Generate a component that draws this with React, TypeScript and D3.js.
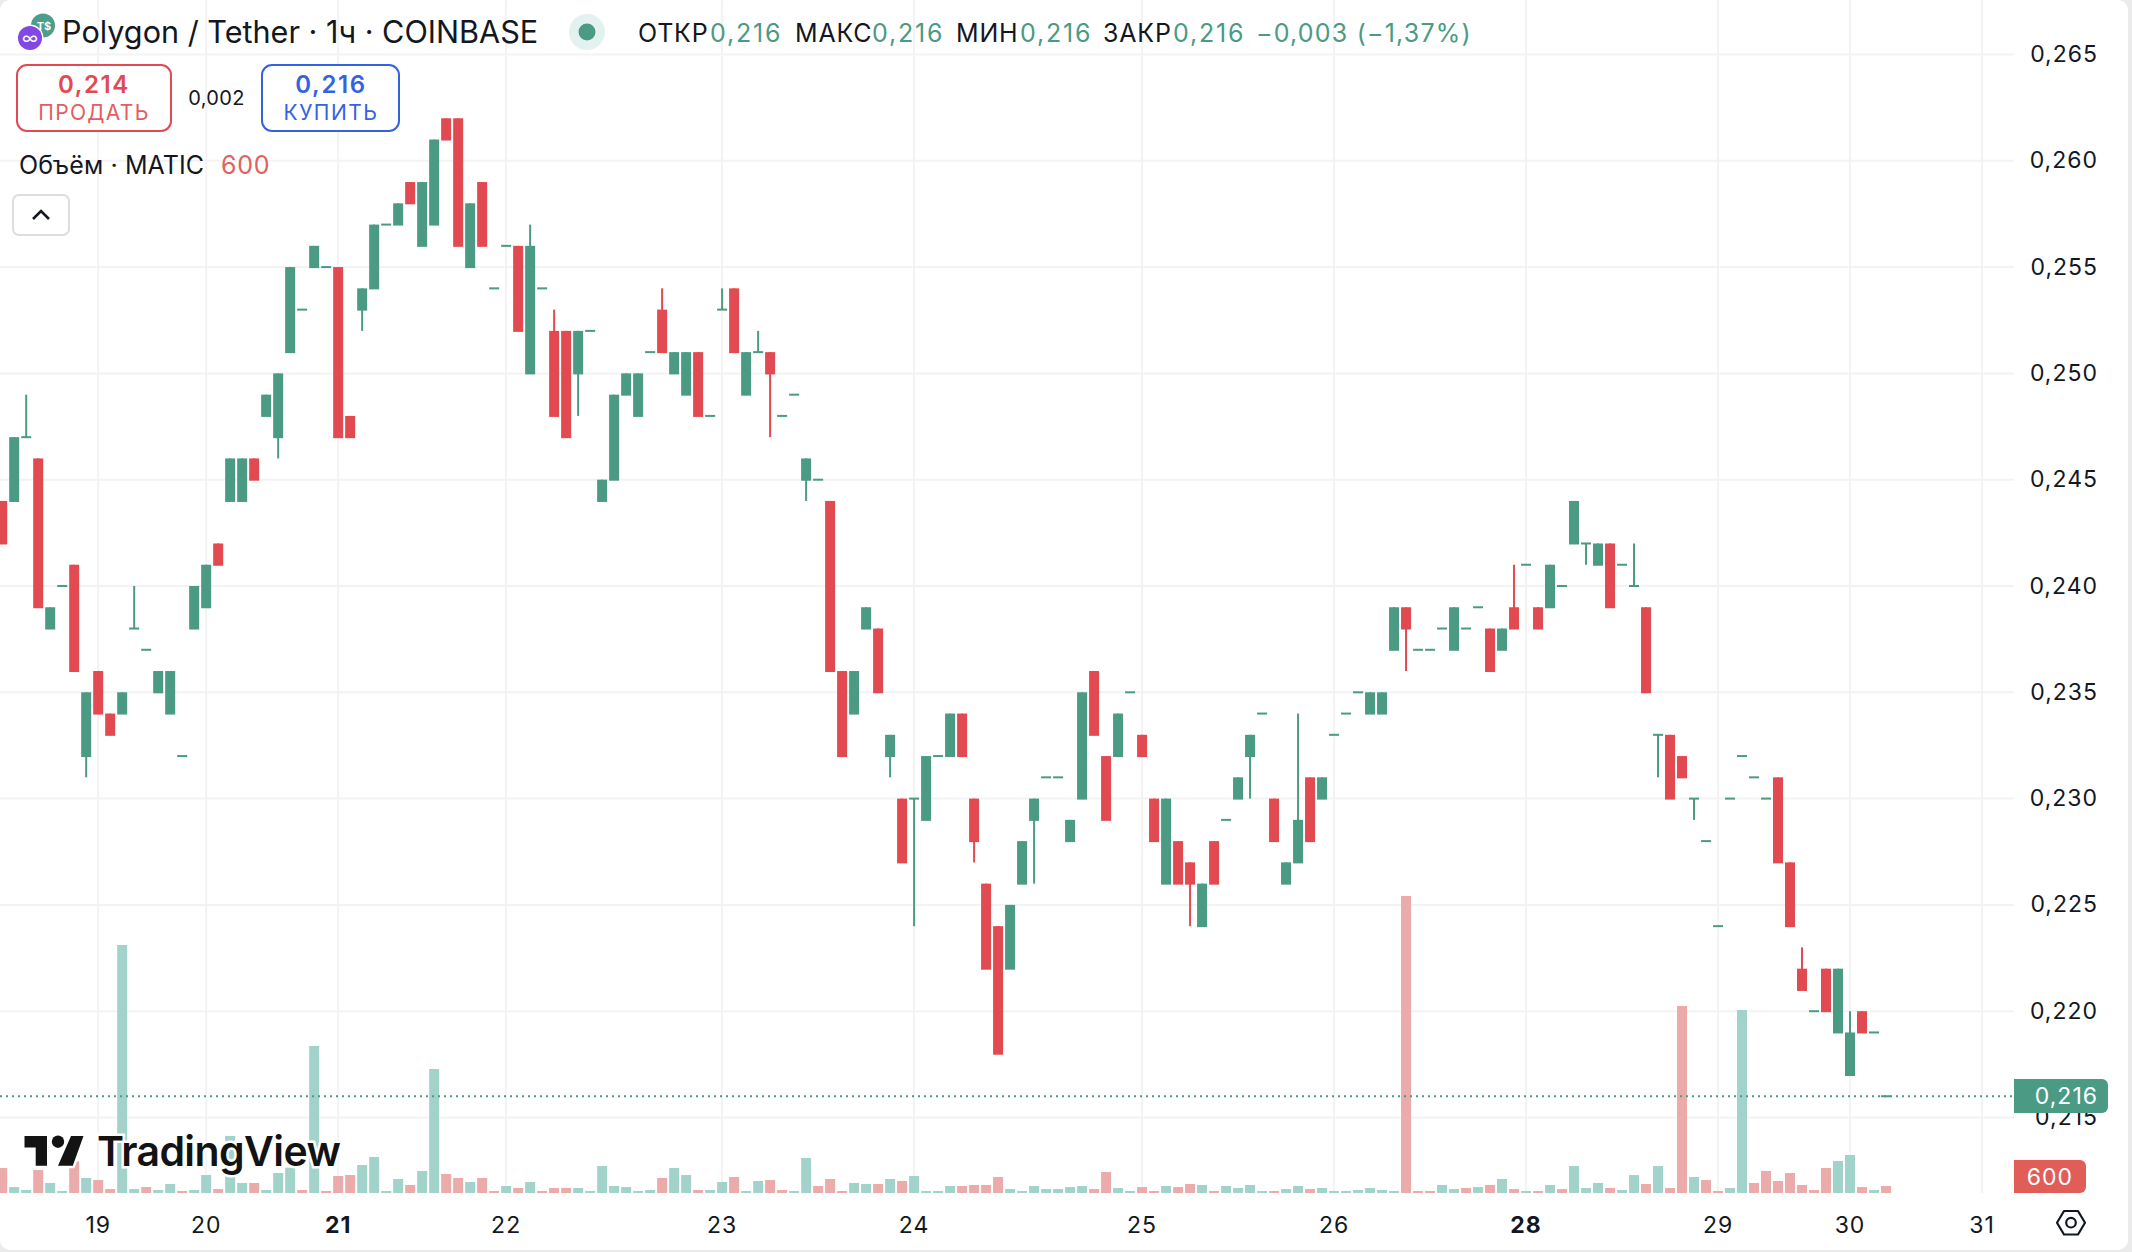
import React from "react";
import * as d3 from "d3";

// prices are in thousandths of a dollar, one candle per slot on the x axis
const opens = [
  244, 244, 247, 246, 238, 240, 241, 232, 236, 234,
  234, 238, 237, 235, 234, 232, 238, 239, 242, 244,
  244, 246, 248, 247, 251, 253, 255, 255, 255, 248,
  253, 254, 257, 257, 259, 256, 257, 262, 262, 255,
  259, 254, 256, 256, 250, 254, 252, 252, 250, 252,
  244, 245, 249, 248, 251, 253, 250, 249, 251, 248,
  253, 254, 249, 251, 251, 248, 249, 245, 245, 244,
  236, 234, 238, 238, 232, 230, 230, 229, 232, 232,
  234, 230, 226, 224, 222, 226, 229, 231, 231, 228,
  230, 236, 232, 232, 235, 233, 230, 226, 228, 227,
  224, 228, 229, 230, 232, 234, 230, 226, 227, 231,
  230, 233, 234, 235, 234, 234, 237, 239, 237, 237,
  238, 237, 238, 239, 238, 237, 239, 241, 239, 239,
  240, 242, 242, 241, 242, 241, 240, 239, 233, 233,
  232, 230, 228, 224, 230, 232, 231, 230, 231, 227,
  222, 220, 222, 219, 217, 220, 219, 216,
];
const highs = [
  244, 247, 249, 246, 239, 240, 241, 235, 236, 234,
  235, 240, 237, 236, 236, 232, 240, 241, 242, 246,
  246, 246, 249, 250, 255, 253, 256, 255, 255, 248,
  254, 257, 257, 258, 259, 259, 261, 262, 262, 258,
  259, 254, 256, 256, 257, 254, 253, 252, 252, 252,
  245, 249, 250, 250, 251, 254, 251, 251, 251, 248,
  254, 254, 251, 252, 251, 248, 249, 246, 245, 244,
  236, 236, 239, 238, 233, 230, 230, 232, 232, 234,
  234, 230, 226, 224, 225, 228, 230, 231, 231, 229,
  235, 236, 232, 234, 235, 233, 230, 230, 228, 227,
  226, 228, 229, 231, 233, 234, 230, 227, 234, 231,
  231, 233, 234, 235, 235, 235, 239, 239, 237, 237,
  238, 239, 238, 239, 238, 238, 241, 241, 239, 241,
  240, 244, 242, 242, 242, 241, 242, 239, 233, 233,
  232, 230, 228, 224, 230, 232, 231, 230, 231, 227,
  223, 220, 222, 222, 220, 220, 219, 216,
];
const lows = [
  242, 244, 247, 239, 238, 240, 236, 231, 234, 233,
  234, 238, 237, 235, 234, 232, 238, 239, 241, 244,
  244, 245, 248, 246, 251, 253, 255, 255, 247, 247,
  252, 254, 257, 257, 258, 256, 257, 261, 256, 255,
  256, 254, 256, 252, 250, 254, 248, 247, 248, 252,
  244, 245, 249, 248, 251, 251, 250, 249, 248, 248,
  253, 251, 249, 251, 247, 248, 249, 244, 245, 236,
  232, 234, 238, 235, 231, 227, 224, 229, 232, 232,
  232, 227, 222, 218, 222, 226, 226, 231, 231, 228,
  230, 233, 229, 232, 235, 232, 228, 226, 226, 224,
  224, 226, 229, 230, 230, 234, 228, 226, 227, 228,
  230, 233, 234, 235, 234, 234, 237, 236, 237, 237,
  238, 237, 238, 239, 236, 237, 238, 241, 238, 239,
  240, 242, 241, 241, 239, 241, 240, 235, 231, 230,
  231, 229, 228, 224, 230, 232, 231, 230, 227, 224,
  221, 220, 220, 219, 217, 219, 219, 216,
];
const closes = [
  242, 247, 247, 239, 239, 240, 236, 235, 234, 233,
  235, 238, 237, 236, 236, 232, 240, 241, 241, 246,
  246, 245, 249, 250, 255, 253, 256, 255, 247, 247,
  254, 257, 257, 258, 258, 259, 261, 261, 256, 258,
  256, 254, 256, 252, 256, 254, 248, 247, 252, 252,
  245, 249, 250, 250, 251, 251, 251, 251, 248, 248,
  253, 251, 251, 251, 250, 248, 249, 246, 245, 236,
  232, 236, 239, 235, 233, 227, 230, 232, 232, 234,
  232, 228, 222, 218, 225, 228, 230, 231, 231, 229,
  235, 233, 229, 234, 235, 232, 228, 230, 226, 226,
  226, 226, 229, 231, 233, 234, 228, 227, 229, 228,
  231, 233, 234, 235, 235, 235, 239, 238, 237, 237,
  238, 239, 238, 239, 236, 238, 238, 241, 238, 241,
  240, 244, 242, 242, 239, 241, 240, 235, 233, 230,
  231, 230, 228, 224, 230, 232, 231, 230, 227, 224,
  221, 220, 220, 222, 219, 219, 219, 216,
];
const volumes = [
  2140, 510, 260, 1970, 860, 170, 2710, 1290, 1110, 340,
  21260, 340, 510, 260, 770, 170, 260, 1540, 340, 4890,
  860, 860, 260, 1710, 2170, 260, 12600, 170, 1460, 1540,
  2400, 3090, 170, 1200, 690, 1890, 10630, 1630, 1290, 940,
  1290, 170, 600, 430, 940, 170, 430, 430, 430, 170,
  2310, 600, 510, 170, 260, 1290, 2140, 1540, 260, 260,
  940, 1370, 170, 1030, 1110, 260, 170, 3000, 600, 1200,
  170, 860, 770, 770, 1200, 1030, 1460, 170, 170, 600,
  600, 690, 690, 1370, 340, 170, 600, 340, 340, 510,
  600, 340, 1800, 430, 170, 510, 170, 600, 510, 770,
  690, 170, 600, 430, 690, 170, 170, 340, 600, 340,
  430, 170, 170, 260, 430, 260, 170, 25460, 170, 170,
  690, 340, 430, 510, 690, 1200, 340, 170, 170, 690,
  340, 2310, 430, 860, 430, 260, 1540, 770, 2310, 430,
  16030, 1370, 1110, 170, 430, 15690, 860, 1890, 1030, 1710,
  690, 260, 2140, 2740, 3260, 510, 260, 600,
];
// slots whose volume bar is red (flat candles can go either way)
const redVolumeSlots = [
  0, 3, 6, 8, 9, 12, 15, 18, 21, 25, 27, 28, 29, 34, 37, 38, 40, 41, 43, 45, 46, 47, 55, 58,
  61, 64, 65, 68, 69, 70, 73, 75, 80, 81, 82, 83, 91, 92, 95, 96, 98, 99, 101, 106, 109, 117,
  118, 119, 122, 124, 126, 128, 130, 134, 137, 139, 140, 142, 143, 146, 147, 148, 149, 150,
  151, 152, 155, 157,
];
const dayLabels = ["19", "20", "21", "22", "23", "24", "25", "26", "28", "29", "30", "31"];
const daySlots = [8, 17, 28, 42, 60, 76, 95, 111, 127, 143, 154, 165];
const boldDays = ["21", "28"];
const priceTicks = [265, 260, 255, 250, 245, 240, 235, 230, 225, 220, 215];
const lastPrice = 216;
const lastVolume = 600;
const legendStats = [
  { label: "ОТКР", labelX: 638, value: "0,216", valueX: 710 },
  { label: "МАКС", labelX: 795, value: "0,216", valueX: 872 },
  { label: "МИН", labelX: 956, value: "0,216", valueX: 1020 },
  { label: "ЗАКР", labelX: 1103, value: "0,216", valueX: 1173 },
];

const GREEN = "#4a9a84";
const RED = "#e14a50";
const GREEN_VOL = "#a1d3cb";
const RED_VOL = "#ebabab";
const BLUE = "#3562e3";
const GRID = "#f3f3f5";
const INK = "#131722";
const FONT = "Inter, 'Noto Sans', sans-serif";

const paneRight = 2014;
const volBase = 1193;
const barWidth = 10;

const x = d3.scaleLinear().domain([0, 165]).range([2.2, 1982]);
const y = d3.scaleLinear().domain([215, 265]).range([1117.5, 54.5]);
const yVol = d3.scaleLinear().domain([0, 25460]).range([volBase, 896]);

const ru = d3.formatLocale({
  decimal: ",",
  thousands: " ",
  grouping: [3],
  currency: ["", " ₽"],
});
const fmtPrice = (p: number) => ru.format(".3f")(p / 1000);

const line = d3.line();
const hexagon = line([
  [2057, 1222.7],
  [2064, 1211],
  [2078, 1211],
  [2085, 1222.7],
  [2078, 1234.5],
  [2064, 1234.5],
]) + "Z";

export default function App() {
  return (
    <svg
      width={2132}
      height={1252}
      viewBox="0 0 2132 1252"
      style={{ position: "fixed", left: 0, top: 0, display: "block" }}
      fontFamily={FONT}
    >
      <rect width={2132} height={1252} fill="#ebebeb" />
      <rect width={2128} height={1250} rx={10} fill="#ffffff" />

      {/* grid */}
      {daySlots.map((s) => (
        <line key={s} x1={x(s)} x2={x(s)} y1={0} y2={volBase} stroke={GRID} strokeWidth={2} />
      ))}
      {priceTicks.map((p) => (
        <line key={p} x1={0} x2={paneRight} y1={y(p)} y2={y(p)} stroke={GRID} strokeWidth={2} />
      ))}

      {/* volume */}
      {volumes.map((v, i) => (
        <rect
          key={i}
          x={x(i) - barWidth / 2}
          y={yVol(v)}
          width={barWidth}
          height={volBase - yVol(v)}
          fill={redVolumeSlots.includes(i) ? RED_VOL : GREEN_VOL}
        />
      ))}

      {/* candles */}
      {opens.map((o, i) => {
        const c = closes[i];
        const color = c >= o ? GREEN : RED;
        const top = y(Math.max(o, c));
        const bottom = y(Math.min(o, c));
        const flat = o === c;
        return (
          <g key={i} fill={color}>
            {highs[i] !== lows[i] && (
              <rect x={x(i) - 1} y={y(highs[i])} width={2} height={y(lows[i]) - y(highs[i])} />
            )}
            <rect
              x={x(i) - barWidth / 2}
              y={flat ? top - 1 : top}
              width={barWidth}
              height={flat ? 2 : bottom - top + 1}
            />
          </g>
        );
      })}

      {/* last price line */}
      <line
        x1={0}
        x2={paneRight}
        y1={y(lastPrice)}
        y2={y(lastPrice)}
        stroke={GREEN}
        strokeWidth={2}
        strokeDasharray="2 4"
      />

      {/* price axis */}
      {priceTicks.map((p) => (
        <text key={p} x={2098} y={y(p) + 7.5} textAnchor="end" fontSize={23} letterSpacing={1} fill={INK}>
          {fmtPrice(p)}
        </text>
      ))}
      <path d="M2014 1079H2102a6 6 0 0 1 6 6V1107a6 6 0 0 1 -6 6H2014Z" fill={GREEN} />
      <text x={2098} y={y(lastPrice) + 7.5} textAnchor="end" fontSize={23} letterSpacing={1} fill="#ffffff">
        {fmtPrice(lastPrice)}
      </text>
      <path d="M2014 1160H2080a6 6 0 0 1 6 6V1187a6 6 0 0 1 -6 6H2014Z" fill="#e05d58" />
      <text x={2050} y={1185} textAnchor="middle" fontSize={23} letterSpacing={1} fill="#ffffff">
        {lastVolume}
      </text>

      {/* time axis */}
      {daySlots.map((s, i) => (
        <text
          key={s}
          x={x(s)}
          y={1232.5}
          textAnchor="middle"
          fontSize={23}
          letterSpacing={1}
          fontWeight={boldDays.includes(dayLabels[i]) ? 700 : 400}
          fill={INK}
        >
          {dayLabels[i]}
        </text>
      ))}
      <path d={hexagon} fill="none" stroke={INK} strokeWidth={2.2} strokeLinejoin="round" />
      <circle cx={2071} cy={1222.7} r={4.8} fill="none" stroke={INK} strokeWidth={2.2} />

      {/* symbol icons */}
      <circle cx={43} cy={25.5} r={12} fill="#4c9d8a" />
      <text x={44} y={30} textAnchor="middle" fontSize={11} fontWeight={700} fill="#ffffff">
        T$
      </text>
      <circle cx={30} cy={38} r={13.5} fill="#ffffff" />
      <circle cx={30} cy={38} r={12} fill="#8247e5" />
      <text x={30} y={43.5} textAnchor="middle" fontSize={17} fill="#ffffff">
        ∞
      </text>

      {/* legend */}
      <text x={62} y={43} fontSize={30.6} fill={INK}>
        Polygon / Tether · 1ч · COINBASE
      </text>
      <circle cx={587} cy={32} r={18} fill="#e4f2ef" />
      <circle cx={587} cy={32} r={8.5} fill={GREEN} />
      {legendStats.map((d) => (
        <g key={d.label} fontSize={25}>
          <text x={d.labelX} y={41.7} letterSpacing={0.8} fill={INK}>
            {d.label}
          </text>
          <text x={d.valueX} y={41.7} letterSpacing={1.8} fill={GREEN}>
            {d.value}
          </text>
        </g>
      ))}
      <text x={1256} y={41.7} fontSize={25} letterSpacing={1.2} fill={GREEN}>
        −0,003 (−1,37%)
      </text>

      {/* sell / buy */}
      <rect x={17} y={65} width={154} height={66} rx={10} fill="#ffffff" stroke={RED} strokeWidth={2} />
      <text x={94} y={93} textAnchor="middle" fontSize={24} fontWeight={600} letterSpacing={1.6} fill={RED}>
        0,214
      </text>
      <text x={94} y={120} textAnchor="middle" fontSize={21} letterSpacing={1.3} fill="#e45c60">
        ПРОДАТЬ
      </text>
      <text x={216.5} y={105} textAnchor="middle" fontSize={20} letterSpacing={0.3} fill={INK}>
        0,002
      </text>
      <rect x={262} y={65} width={137} height={66} rx={10} fill="#ffffff" stroke={BLUE} strokeWidth={2} />
      <text x={331} y={93} textAnchor="middle" fontSize={24} fontWeight={600} letterSpacing={1.6} fill={BLUE}>
        0,216
      </text>
      <text x={331} y={120} textAnchor="middle" fontSize={21} letterSpacing={1.5} fill={BLUE}>
        КУПИТЬ
      </text>

      {/* volume legend */}
      <text x={19} y={174} fontSize={25} letterSpacing={0.1} fill={INK}>
        Объём · MATIC
      </text>
      <text x={221} y={174} fontSize={25} letterSpacing={0.7} fill="#e0625c">
        {lastVolume}
      </text>
      <rect x={13} y={195} width={56} height={40} rx={6} fill="#ffffff" stroke="#dddddd" strokeWidth={2} />
      <path d="M33 219L41 211L49 219" fill="none" stroke={INK} strokeWidth={2.6} />

      {/* logo */}
      <g fill="#131313" stroke="#ffffff" strokeWidth={5} paintOrder="stroke">
        <path d="M24.5 1136H47V1165.7H35.7V1147.5H24.5Z" />
        <circle cx={58} cy={1141.7} r={6.2} />
        <path d="M71 1136H83.5L72.8 1165.7H58Z" />
        <text x={97} y={1165.7} fontSize={41} fontWeight={600} letterSpacing={-0.6}>
          TradingView
        </text>
      </g>
    </svg>
  );
}
